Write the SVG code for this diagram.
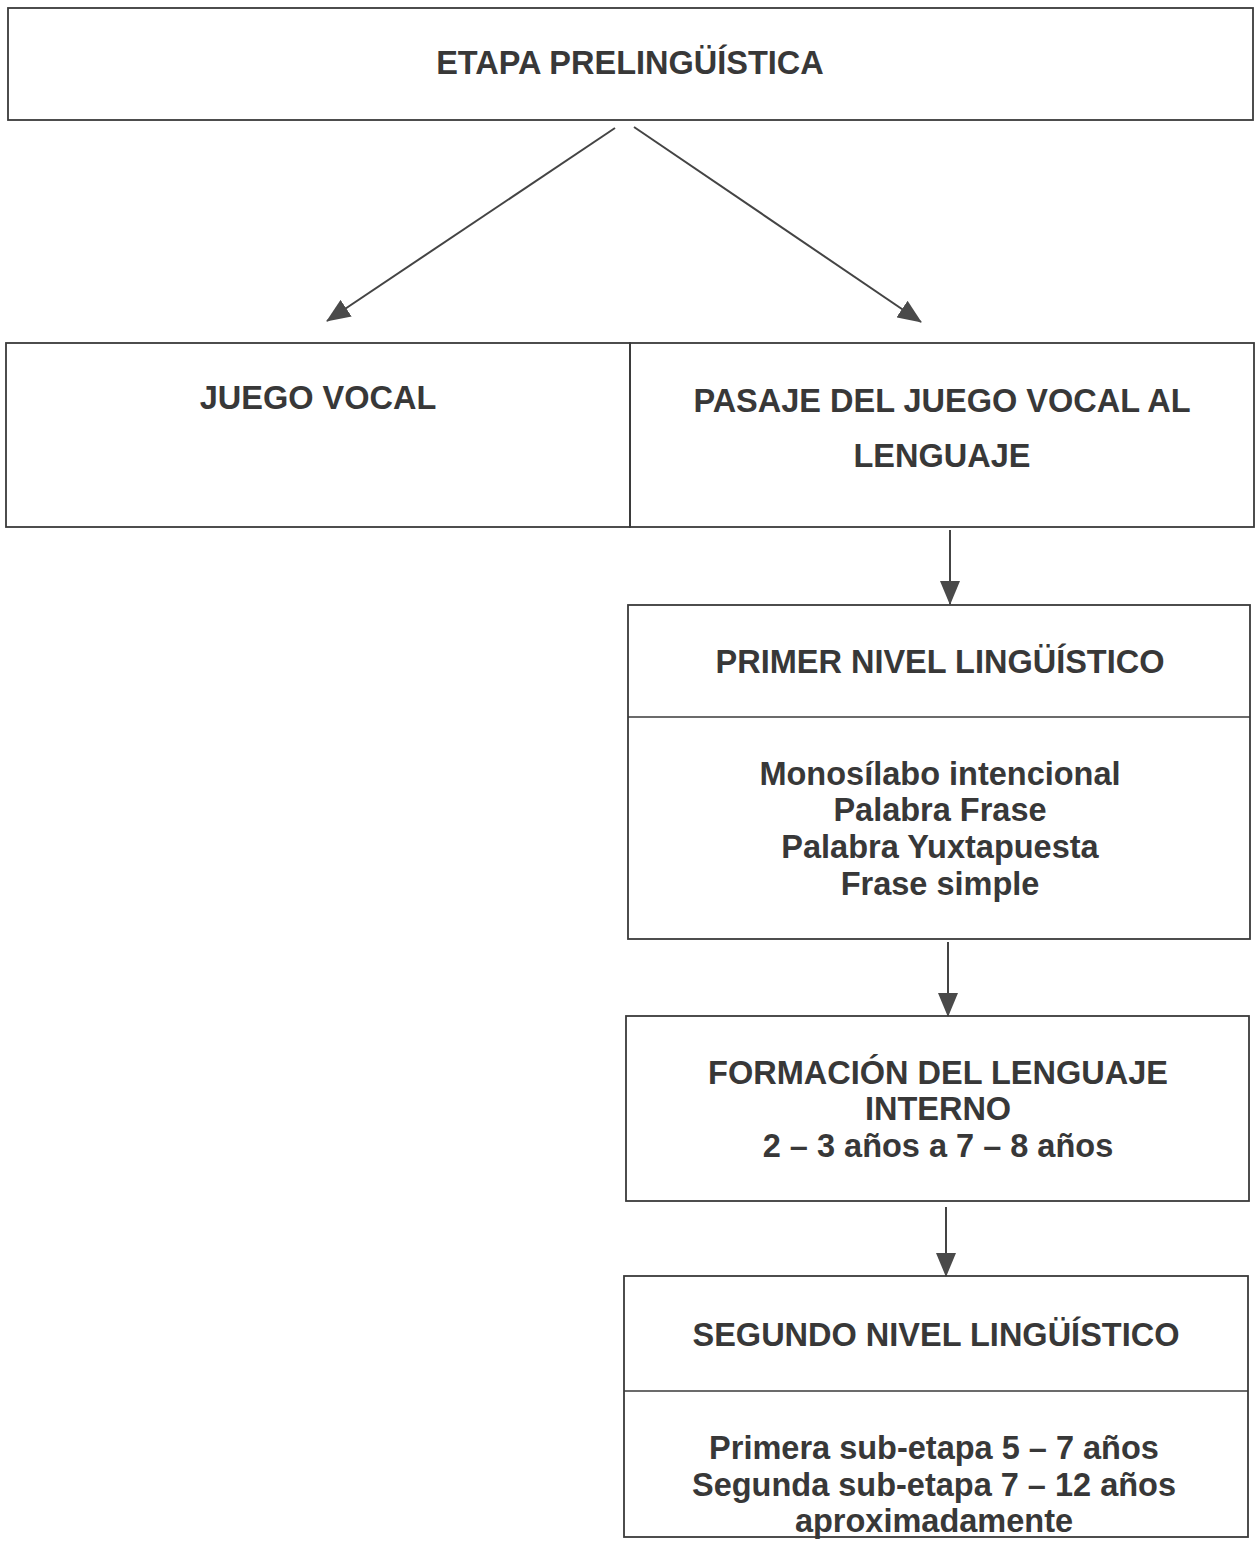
<svg xmlns="http://www.w3.org/2000/svg" width="1255" height="1543" viewBox="0 0 1255 1543">
<style>
.box{fill:none;stroke:#3a3a3a;stroke-width:1.8}
.div{stroke:#3a3a3a;stroke-width:1.5}
.t{font-family:"Liberation Sans",Arial,sans-serif;font-weight:bold;font-size:32.5px;fill:#383838;text-anchor:middle}
.c{stroke:#444;stroke-width:2;fill:none;marker-end:url(#ah)}
</style>
<defs>
<marker id="ah" viewBox="0 0 24 20" refX="23" refY="10" markerWidth="24" markerHeight="20" markerUnits="userSpaceOnUse" orient="auto">
<path d="M0,0 L24,10 L0,20 Z" fill="#4a4a4a"/>
</marker>
</defs>
<rect width="1255" height="1543" fill="#ffffff"/>
<g id="connectors">
<line class="c" x1="615" y1="128" x2="327" y2="321"/>
<line class="c" x1="634" y1="127" x2="921" y2="322"/>
<line class="c" x1="950" y1="530" x2="950" y2="604"/>
<line class="c" x1="948" y1="942" x2="948" y2="1016"/>
<line class="c" x1="946" y1="1207" x2="946" y2="1276"/>
</g>
<g id="etapa-prelinguistica">
<rect class="box" x="8" y="8" width="1245" height="112"/>
<text class="t" x="630" y="74">ETAPA PRELINGÜÍSTICA</text>
</g>
<g id="juego-vocal">
<rect class="box" x="6" y="343" width="624" height="184"/>
<text class="t" x="318" y="409">JUEGO VOCAL</text>
</g>
<g id="pasaje">
<rect class="box" x="630" y="343" width="624" height="184"/>
<text class="t" x="942" y="412">PASAJE DEL JUEGO VOCAL AL</text>
<text class="t" x="942" y="467">LENGUAJE</text>
</g>
<g id="primer-nivel">
<rect class="box" x="628" y="605" width="622" height="334"/>
<line class="div" x1="628" y1="717" x2="1250" y2="717"/>
<text class="t" x="940" y="673">PRIMER NIVEL LINGÜÍSTICO</text>
<text class="t" x="940" y="785">Monosílabo intencional</text>
<text class="t" x="940" y="821">Palabra Frase</text>
<text class="t" x="940" y="858">Palabra Yuxtapuesta</text>
<text class="t" x="940" y="895">Frase simple</text>
</g>
<g id="formacion">
<rect class="box" x="626" y="1016" width="623" height="185"/>
<text class="t" x="938" y="1084">FORMACIÓN DEL LENGUAJE</text>
<text class="t" x="938" y="1120">INTERNO</text>
<text class="t" x="938" y="1157">2 – 3 años a 7 – 8 años</text>
</g>
<g id="segundo-nivel">
<rect class="box" x="624" y="1276" width="624" height="261"/>
<line class="div" x1="624" y1="1391" x2="1248" y2="1391"/>
<text class="t" x="936" y="1346">SEGUNDO NIVEL LINGÜÍSTICO</text>
<text class="t" x="934" y="1459">Primera sub-etapa 5 – 7 años</text>
<text class="t" x="934" y="1496">Segunda sub-etapa 7 – 12 años</text>
<text class="t" x="934" y="1532">aproximadamente</text>
</g>
</svg>
